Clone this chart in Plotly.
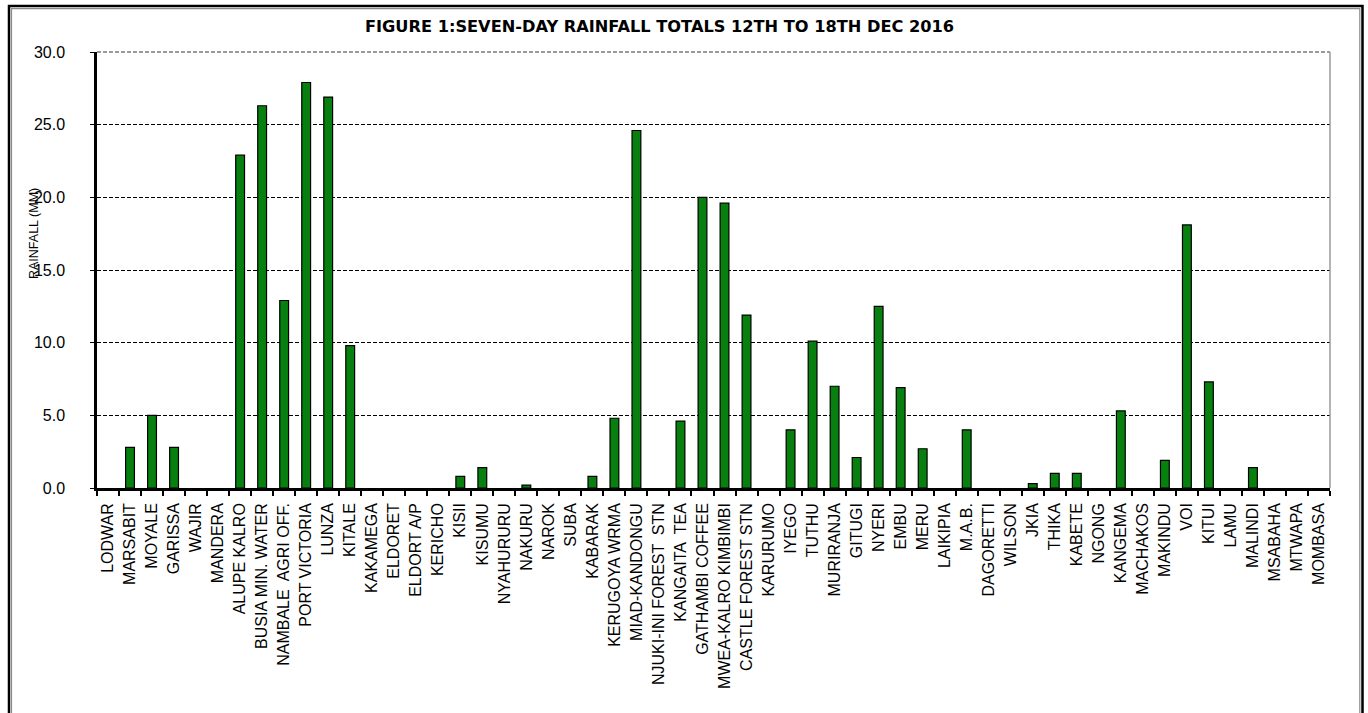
import plotly.graph_objects as go

stations = [
    "LODWAR", "MARSABIT", "MOYALE", "GARISSA", "WAJIR", "MANDERA", "ALUPE KALRO",
    "BUSIA MIN. WATER", "NAMBALE  AGRI OFF.", "PORT VICTORIA", "LUNZA", "KITALE",
    "KAKAMEGA", "ELDORET", "ELDORT A/P", "KERICHO", "KISII", "KISUMU", "NYAHURURU",
    "NAKURU", "NAROK", "SUBA", "KABARAK", "KERUGOYA WRMA", "MIAD-KANDONGU",
    "NJUKI-INI FOREST  STN", "KANGAITA  TEA", "GATHAMBI COFFEE", "MWEA-KALRO KIMBIMBI",
    "CASTLE FOREST STN", "KARURUMO", "IYEGO", "TUTHU", "MURIRANJA", "GITUGI", "NYERI",
    "EMBU", "MERU", "LAIKIPIA", "M.A.B.", "DAGORETTI", "WILSON", "JKIA", "THIKA",
    "KABETE", "NGONG", "KANGEMA", "MACHAKOS", "MAKINDU", "VOI", "KITUI", "LAMU",
    "MALINDI", "MSABAHA", "MTWAPA", "MOMBASA",
]

rainfall_mm = [
    0.0, 2.8, 5.0, 2.8, 0.0, 0.0, 22.9,
    26.3, 12.9, 27.9, 26.9, 9.8,
    0.0, 0.0, 0.0, 0.0, 0.8, 1.4, 0.0,
    0.2, 0.0, 0.0, 0.8, 4.8, 24.6,
    0.0, 4.6, 20.0, 19.6,
    11.9, 0.0, 4.0, 10.1, 7.0, 2.1, 12.5,
    6.9, 2.7, 0.0, 4.0, 0.0, 0.0, 0.3, 1.0,
    1.0, 0.0, 5.3, 0.0, 1.9, 18.1, 7.3, 0.0,
    1.4, 0.0, 0.0, 0.0,
]

y_ticks = [0, 5, 10, 15, 20, 25, 30]
y_tick_text = ["0.0", "5.0", "10.0", "15.0", "20.0", "25.0", "30.0"]

title_text = "FIGURE 1:SEVEN-DAY RAINFALL TOTALS 12TH TO 18TH DEC 2016"
y_title = "RAINFALL (MM)"

W, H = 1368, 713
L, R, T, B = 97, 38, 52, 225
PW = W - L - R
PH = H - T - B


def px(x):
    return (x - L) / PW


def py(y):
    return (H - B - y) / PH


# zero-rainfall stations draw no bar (no outline stub)
bar_values = [v if v > 0 else None for v in rainfall_mm]

fig = go.Figure()
fig.add_trace(go.Bar(
    x=stations,
    y=bar_values,
    marker=dict(color="#088010", line=dict(color="black", width=1.2)),
    hoverinfo="x+y",
))

shapes = [
    # outer double frame
    dict(type="rect", xref="paper", yref="paper", x0=px(9), x1=px(1362.5),
         y0=py(730), y1=py(6), line=dict(color="black", width=2.5)),
    dict(type="rect", xref="paper", yref="paper", x0=px(11.5), x1=px(1359.8),
         y0=py(730), y1=py(8.7), line=dict(color="#8a8a8a", width=1.2)),
    # plot area right border
    dict(type="line", xref="paper", yref="paper", x0=1, x1=1, y0=0, y1=1,
         line=dict(color="#8c8c8c", width=1.3)),
    # top line (grey dashed)
    dict(type="line", xref="paper", yref="paper", x0=0, x1=1, y0=1, y1=1,
         line=dict(color="white", width=2)),
    dict(type="line", xref="paper", yref="paper", x0=0, x1=1, y0=1, y1=1,
         line=dict(color="#7a7a7a", width=1.3, dash="4px,2px")),
]

annotations = [
    dict(text="<b>" + title_text + "</b>", xref="paper", yref="paper",
         x=px(659), y=py(26), xanchor="center", yanchor="middle", showarrow=False,
         font=dict(family="DejaVu Sans", size=16.2, color="black")),
    dict(text=y_title, xref="paper", yref="paper", x=px(34), y=py(234),
         xanchor="center", yanchor="middle", textangle=-90, showarrow=False,
         font=dict(family="Liberation Sans Narrow, Arial Narrow, Liberation Sans", size=12.5,
                   color="black")),
]

fig.update_layout(
    width=W, height=H,
    margin=dict(l=L, r=R, t=T, b=B, pad=0),
    paper_bgcolor="white", plot_bgcolor="white",
    bargap=0.6,
    showlegend=False,
    shapes=shapes,
    annotations=annotations,
)

fig.update_xaxes(
    type="category",
    tickangle=-90,
    tickson="boundaries",
    ticks="outside", ticklen=5, tickwidth=1.5, tickcolor="black",
    showline=True, linecolor="black", linewidth=2.5,
    showgrid=False,
    ticklabelstandoff=6,
    tickfont=dict(family="Liberation Sans Narrow, Arial Narrow, Liberation Sans", size=16,
                  color="black"),
)

fig.update_yaxes(
    range=[0, 30],
    tickvals=y_ticks, ticktext=y_tick_text,
    ticks="outside", ticklen=4, tickwidth=1, tickcolor="black",
    showline=True, linecolor="black", linewidth=2.5,
    showgrid=True, gridcolor="black", gridwidth=1, griddash="4px,2px",
    zeroline=False,
    ticklabelstandoff=22,
    tickfont=dict(family="Liberation Sans", size=16, color="black"),
)

fig.write_html(
    "out.html",
    config={"displayModeBar": False},
    post_script="document.body.style.margin='0';document.body.style.overflow='hidden';",
)
